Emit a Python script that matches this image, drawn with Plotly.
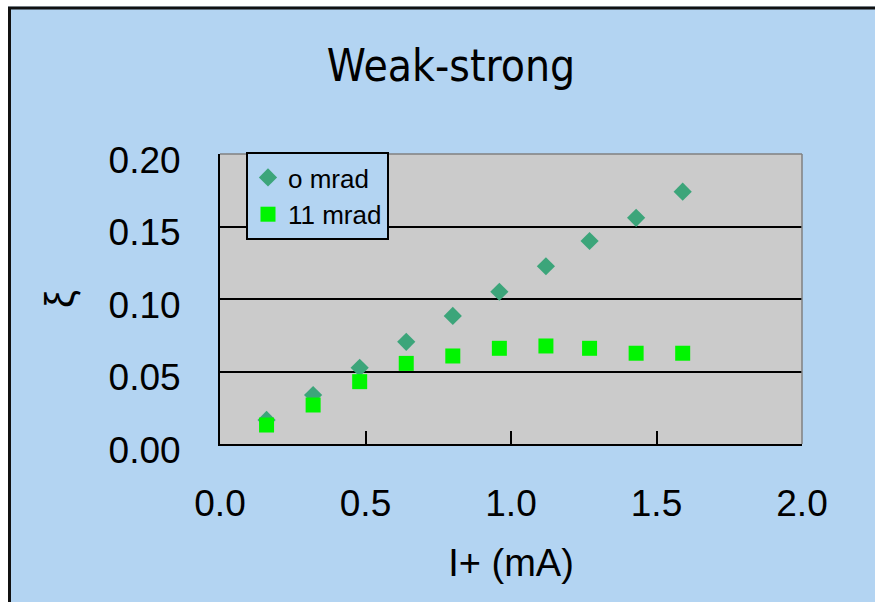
import plotly.graph_objects as go

# Beam current I+ (mA) and beam-beam parameter for two crossing angles
current_ma = [0.16, 0.32, 0.48, 0.64, 0.80, 0.96, 1.12, 1.27, 1.43, 1.59]
xi_0mrad = [0.0166, 0.0338, 0.0526, 0.0705, 0.0883, 0.105, 0.1226, 0.140, 0.156, 0.174]
xi_11mrad = [0.0131, 0.0269, 0.043, 0.0556, 0.0607, 0.066, 0.0676, 0.066, 0.0626, 0.0626]

series_names = ["o mrad", "11 mrad"]
y_ticks = [0.0, 0.05, 0.10, 0.15, 0.20]
x_ticks = [0.0, 0.5, 1.0, 1.5, 2.0]

BLUE = "#b3d4f2"
FONT = "Liberation Sans, Arial, sans-serif"

fig = go.Figure()
fig.add_trace(go.Scatter(
    x=current_ma, y=xi_0mrad, mode="markers", name=series_names[0],
    marker=dict(symbol="diamond", size=14, color="#3ca57a"),
))
fig.add_trace(go.Scatter(
    x=current_ma, y=xi_11mrad, mode="markers", name=series_names[1],
    marker=dict(symbol="square", size=15, color="#00f500"),
))

W, H = 875, 602
ml, mr, mt, mb = 220, 73, 154, 158
pw, ph = W - ml - mr, H - mt - mb


def px_x(p):
    return (p - ml) / pw


def px_y(p):
    return (H - mb - p) / ph


shapes = [
    # white strip outside the framed chart area
    dict(type="rect", xref="paper", yref="paper", x0=px_x(-5), x1=px_x(8),
         y0=px_y(-5), y1=px_y(H + 5), fillcolor="white", line=dict(width=0)),
    dict(type="rect", xref="paper", yref="paper", x0=px_x(-5), x1=px_x(W + 5),
         y0=px_y(6.5), y1=px_y(-5), fillcolor="white", line=dict(width=0)),
    # dark frame edges
    dict(type="line", xref="paper", yref="paper", x0=px_x(9.5), x1=px_x(9.5),
         y0=px_y(7), y1=px_y(H + 5), line=dict(color="#111111", width=3)),
    dict(type="line", xref="paper", yref="paper", x0=px_x(8), x1=px_x(W + 5),
         y0=px_y(8), y1=px_y(8), line=dict(color="#111111", width=3)),
    # grey top and right border of the plot area
    dict(type="line", xref="paper", yref="paper", x0=0, x1=1, y0=1, y1=1,
         line=dict(color="#808080", width=1.5), layer="above"),
    dict(type="line", xref="paper", yref="paper", x0=1, x1=1, y0=0, y1=1,
         line=dict(color="#808080", width=1.5), layer="above"),
]

fig.update_layout(
    width=W, height=H,
    margin=dict(l=ml, r=mr, t=mt, b=mb, pad=0),
    paper_bgcolor=BLUE,
    plot_bgcolor="#cbcbcb",
    font=dict(family=FONT, color="black"),
    title=dict(
        text="Weak-strong", x=px_x(451), xanchor="center", xref="paper",
        y=1 - 66 / H, yanchor="middle",
        font=dict(family="Liberation Sans Narrow, DejaVu Sans Condensed, Liberation Sans",
                  size=44, color="black"),
    ),
    showlegend=True,
    legend=dict(
        x=px_x(246), y=px_y(152), xanchor="left", yanchor="top",
        bgcolor=BLUE, bordercolor="black", borderwidth=2,
        font=dict(family=FONT, size=26, color="black"),
        itemwidth=30, tracegroupgap=0,
    ),
    shapes=shapes,
)

fig.update_xaxes(
    range=[0, 2], tickvals=x_ticks, tickformat=".1f",
    ticks="inside", ticklen=13, tickwidth=2, tickcolor="black",
    showline=True, linecolor="black", linewidth=2,
    showgrid=False, zeroline=False,
    tickfont=dict(family=FONT, size=37, color="black"),
    ticklabelstandoff=26,
    title=dict(text="I+ (mA)", font=dict(family=FONT, size=38, color="black"), standoff=26),
)
fig.update_yaxes(
    range=[0, 0.2], tickvals=y_ticks, tickformat=".2f",
    ticks="inside", ticklen=14, tickwidth=2, tickcolor="black",
    showline=True, linecolor="black", linewidth=2,
    showgrid=True, gridcolor="black", gridwidth=1.5, zeroline=False,
    tickfont=dict(family=FONT, size=37, color="black"),
    ticklabelstandoff=30, ticklabelshift=6,
    title=dict(text="ξ", font=dict(family=FONT, size=40, color="black"), standoff=22),
)

fig.write_html("out.html")
